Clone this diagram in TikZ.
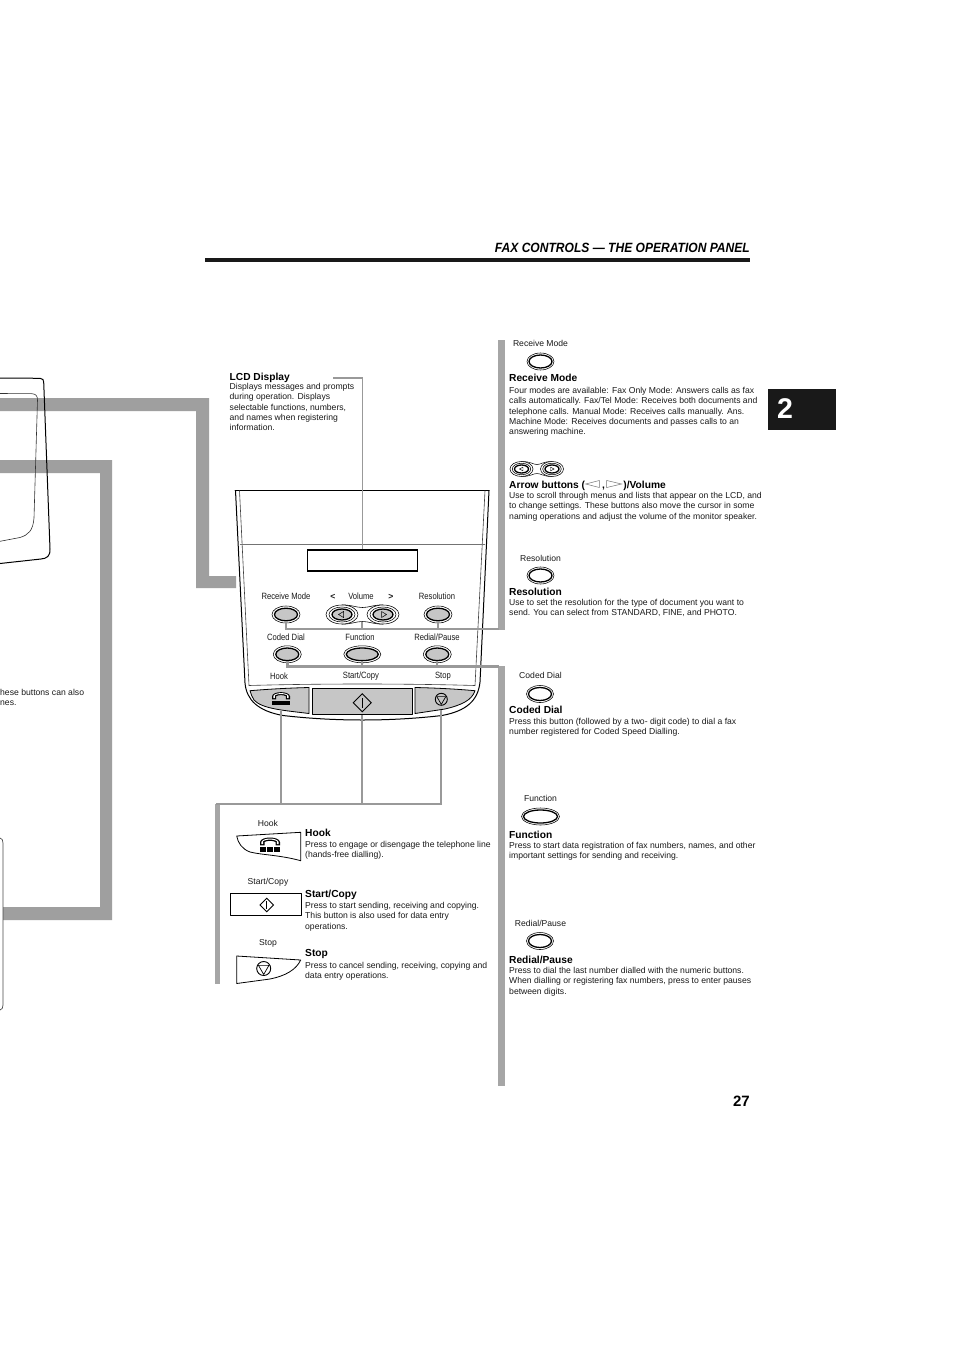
\documentclass[tikz,border=0pt]{standalone}
\usepackage{fontspec}
\setmainfont{Liberation Sans}
\newfontfamily\narrowf[FakeStretch=0.84]{Liberation Sans}
\newfontfamily\titlef[FakeStretch=0.9]{Liberation Sans}
\usetikzlibrary{shapes.geometric}
\definecolor{barA}{HTML}{9F9F9F}
\definecolor{barB}{HTML}{A6A6A6}
\definecolor{wireg}{HTML}{999999}
\definecolor{keyg}{HTML}{C6C6C6}
\definecolor{txt}{HTML}{1A1A1A}
\tikzset{
  bodytxt/.style={anchor=north west,inner sep=0pt,align=left,text=txt,font=\fontsize{8.62}{10.32}\selectfont},
  headtxt/.style={anchor=base west,inner sep=0pt,text=black,font=\fontsize{10.2}{11}\selectfont\bfseries},
  smalltxt/.style={anchor=center,inner sep=0pt,text=txt,font=\fontsize{8.6}{10}\selectfont},
  paneltxt/.style={anchor=center,inner sep=0pt,text=txt,font=\narrowf\fontsize{9.1}{10}\selectfont},
  thickbar/.style={fill=barA,draw=none},
  sidebar/.style={fill=barB,draw=none},
  wire/.style={draw=wireg,line width=2.4pt},
  thinwire/.style={draw=wireg,line width=1.9pt},
  outerring/.style={ellipse,draw=black,line width=0.55pt,inner sep=0pt,fill=white},
  innerkey/.style={ellipse,draw=black,line width=1.3pt,inner sep=0pt,fill=keyg},
  innericon/.style={ellipse,draw=black,line width=1.3pt,inner sep=0pt,fill=white},
  keyface/.style={draw=black,line width=0.8pt,fill=keyg,line join=round},
  iconface/.style={draw=black,line width=0.8pt,fill=white,line join=round},
  outline/.style={draw=black,line width=1pt,line cap=round},
  fineline/.style={draw=black!75,line width=0.6pt},
}
\newcommand{\panelkey}[5]{%
  \node[outerring,minimum width=#4*2pt,minimum height=#5*2pt] (#1o) at (#2,#3) {};
  \node[innerkey,minimum width=#4*2pt-5pt,minimum height=#5*2pt-4.4pt] (#1) at (#2,#3) {};}
\newcommand{\iconkey}[5]{%
  \node[outerring,minimum width=#4*2pt,minimum height=#5*2pt] (#1o) at (#2,#3) {};
  \node[innericon,minimum width=#4*2pt-4pt,minimum height=#5*2pt-4pt] (#1) at (#2,#3) {};}
\newcommand{\phoneicon}[3]{% x, y of centre, scale
  \begin{scope}[shift={(#1,#2)},scale=#3]
    \fill[black] (-10,1.4) -- (-10,-2) .. controls (-9,-8) and (9,-8) .. (10,-2) -- (10,1.4) -- (5.5,1.4) -- (5.5,-2) .. controls (3,-3.6) and (-3,-3.6) .. (-5.5,-2) -- (-5.5,1.4) -- cycle;
    \fill[white] (-8.6,0.2) -- (-8.6,-2) .. controls (-7,-6.6) and (7,-6.6) .. (8.6,-2) -- (8.6,0.2) -- (6.8,0.2) -- (6.8,-3) .. controls (3,-5) and (-3,-5) .. (-6.8,-3) -- (-6.8,0.2) -- cycle;
    \fill[black] (-10,3) rectangle (-3.8,8);
    \fill[black] (-3,3) rectangle (3,8);
    \fill[black] (3.8,3) rectangle (10,8);
  \end{scope}}
\newcommand{\startdiamond}[3]{%
  \draw[black,line width=0.9pt,fill=none,line join=miter] (#1-#3,#2) -- (#1,#2-#3) -- (#1+#3,#2) -- (#1,#2+#3) -- cycle;
  \draw[black,line width=1.5pt] (#1,#2-#3*0.55) -- (#1,#2+#3*0.55);}
\newcommand{\stopmark}[3]{%
  \draw[black,line width=0.9pt] (#1,#2) circle (#3pt);
  \draw[black,line width=0.7pt,line join=round] (#1-#3*0.75,#2-#3*0.45) -- (#1+#3*0.75,#2-#3*0.45) -- (#1,#2+#3*0.85) -- cycle;}
\begin{document}
\begin{tikzpicture}[x=1pt,y=-1pt]
\useasboundingbox (0,0) rectangle (954,1351);
\fill[white] (0,0) rectangle (954,1351);

% page furniture
\node[anchor=base east,inner sep=0pt,font=\titlef\fontsize{13.4}{15}\selectfont\bfseries\itshape] (pagetitle) at (750,252) {FAX CONTROLS — THE OPERATION PANEL};
\fill[black!90] (205,258) rectangle (750,262);
\fill[black!90] (768,389) rectangle (836,430);
\node[anchor=center,inner sep=0pt,text=white,font=\fontsize{28.5}{30}\selectfont\bfseries] (chapter) at (785,408.5) {2};
\node[anchor=base east,inner sep=0pt,font=\fontsize{15}{17}\selectfont\bfseries] (pagenum) at (750,1106) {27};

% thick grey bars on the left
\fill[thickbar] (0,398) -- (209,398) -- (209,576) -- (236,576) -- (236,588) -- (196,588) -- (196,411) -- (0,411) -- cycle;
\fill[thickbar] (0,460) -- (112,460) -- (112,920) -- (3,920) -- (3,907) -- (100,907) -- (100,473) -- (0,473) -- cycle;

% right side bars
\fill[sidebar] (498.3,340) rectangle (505,630);
\fill[sidebar] (498.3,666) rectangle (505,1086);
% lower left bracket
\fill[sidebar] (215,804) rectangle (220,984);

% cropped machine outline at far left
\draw[draw=black,line width=1pt] (0,378) -- (40,378.3) .. controls (43,378.5) and (43.5,380) .. (43.7,382) -- (50,549) .. controls (50.3,556) and (47,558.5) .. (41,559) -- (0,563.5);
\draw[draw=black!80,line width=0.6pt] (0,393.5) -- (32,393.7) .. controls (36,394) and (37.5,396) .. (37.5,400) -- (34,518) .. controls (33,531) and (28,535) .. (20,537.5) -- (0,541.3);
\draw[draw=black!70,line width=0.7pt] (0,838) .. controls (2,838.5) and (3,840) .. (3,843) -- (3,1005) .. controls (3,1008) and (2,1009.5) .. (0,1010);

% panel outline
\draw[outline] (235,490.5) -- (489,490.5);
\draw[outline] (235.5,490.5) -- (245,683) .. controls (246.5,700) and (258,711) .. (283,715.5) .. controls (335,721.5) and (390,721.5) .. (442,715.5) .. controls (466,711) and (478,701) .. (480,682) -- (489,490.5);
\draw[fineline] (239.5,490.5) -- (249,685.5) .. controls (320,683.5) and (405,683.5) .. (475,685.5) -- (485,490.5);
\draw[draw=black!55,line width=0.9pt] (239.5,544) -- (485,544);
\node[draw=black,line width=1.6pt,fill=white,inner sep=0pt,minimum width=110pt,minimum height=21pt] (lcd) at (362.5,560.5) {};

% bottom keys
\path[keyface] (250,690.7) .. controls (270,689) and (290,688) .. (309,687.5) -- (309,713.5) .. controls (285,710.5) and (262,709) .. (254,700) .. controls (252,697) and (251,694) .. (250,690.7) -- cycle;
\node[keyface,inner sep=0pt,minimum width=99.5pt,minimum height=26.5pt] (startkey) at (362.3,701.5) {};
\path[keyface] (415,687.5) .. controls (437,688) and (456,689) .. (475,690.7) .. controls (472,700) and (462,705) .. (445,709) -- (415,713.5) -- cycle;
\coordinate (hookkey) at (281,711);
\coordinate (stopkey) at (441,710);
\phoneicon{281}{698}{0.9}
\startdiamond{362.3}{702.7}{9}
\stopmark{441.3}{699.3}{6}

% panel buttons
\panelkey{krm}{286}{614.5}{14}{8.5}
\panelkey{kres}{438}{614.5}{14}{8.5}
\panelkey{kcd}{287.3}{654.3}{14}{8.5}
\panelkey{kfn}{362.3}{654.3}{18.5}{8.5}
\panelkey{krp}{437.3}{654.3}{14}{8.5}
% arrow pair
\draw[draw=black,line width=0.55pt] (342,604.8) .. controls (352,605) and (356,607.5) .. (362.5,607.5) .. controls (369,607.5) and (373,605) .. (383,604.8);
\draw[draw=black,line width=0.55pt] (342,624.2) .. controls (352,624) and (356,621.5) .. (362.5,621.5) .. controls (369,621.5) and (373,624) .. (383,624.2);
\node[outerring,minimum width=32pt,minimum height=19pt] (kao) at (342,614.5) {};
\node[outerring,minimum width=26pt,minimum height=15pt] (kam) at (342,614.5) {};
\node[innerkey,minimum width=20pt,minimum height=11pt] (ka) at (342,614.5) {};
\node[outerring,minimum width=32pt,minimum height=19pt] (kbo) at (383,614.5) {};
\node[outerring,minimum width=26pt,minimum height=15pt] (kbm) at (383,614.5) {};
\node[innerkey,minimum width=20pt,minimum height=11pt] (kb) at (383,614.5) {};
\draw[black,line width=0.5pt] (343.5,611.5) -- (338.5,614.5) -- (343.5,617.5) -- cycle;
\draw[black,line width=0.5pt] (381.5,611.5) -- (386.5,614.5) -- (381.5,617.5) -- cycle;

% panel labels
\node[paneltxt] (lrm) at (286,596) {Receive Mode};
\node[paneltxt,font=\fontsize{8.6}{10}\selectfont\bfseries] (lvl) at (333,596.5) {<};
\node[paneltxt] (lvol) at (361,596) {Volume};
\node[paneltxt,font=\fontsize{8.6}{10}\selectfont\bfseries] (lvr) at (391,596.5) {>};
\node[paneltxt] (lres) at (437,596) {Resolution};
\node[paneltxt] (lcd1) at (286,637) {Coded Dial};
\node[paneltxt] (lfn) at (360,637) {Function};
\node[paneltxt] (lrp) at (437,637) {Redial/Pause};
\node[paneltxt] (lhk) at (279,676) {Hook};
\node[paneltxt] (lst) at (361,676) {Start/Copy};
\node[paneltxt] (lsp) at (443,676) {Stop};

% connectors
\coordinate (cLcdEnd) at (333,377.7);
\draw[thinwire] (cLcdEnd) -| (lcd.north);
\coordinate (cUpper) at (498.5,629.3);
\coordinate (cLower) at (498.5,666.5);
\coordinate (cVol) at (362.3,629.3);
\draw[thinwire] (krm.south) |- (cUpper);
\draw[thinwire] (kres.south) -- (kres.south |- cUpper);
\draw[thinwire] (cVol) -- (362.3,621.8);
\draw[wire] (kcd.south) |- (cLower);
\draw[thinwire] (kfn.south) -- (kfn.south |- cLower);
\draw[thinwire] (krp.south) -- (krp.south |- cLower);
\coordinate (cBrL) at (216,804);
\coordinate (cBrR) at (442,804);
\draw[wire] (cBrL) -- (cBrR);
\draw[thinwire] (hookkey) -- (hookkey |- cBrL);
\draw[thinwire] (startkey.south) -- (startkey.south |- cBrL);
\draw[thinwire] (stopkey) -- (stopkey |- cBrL);

% LCD text
\node[headtxt] (hlcd) at (229.5,380.5) {LCD Display};
\node[bodytxt] (blcd) at (229.5,383.2) {Displays messages and prompts\\during operation. Displays\\selectable functions, numbers,\\and names when registering\\information.};

% cropped text on the left
\node[bodytxt] (bleft) at (0,688.8) {hese buttons can also\\nes.};

% right column
\node[smalltxt] (s1) at (540.5,343.3) {Receive Mode};
\iconkey{i1}{540.5}{361.5}{13.5}{8.5}
\node[headtxt] (h1) at (509,381.3) {Receive Mode};
\node[bodytxt] (b1) at (509,387.1) {Four modes are available: Fax Only Mode: Answers calls as fax\\calls automatically. Fax/Tel Mode: Receives both documents and\\telephone calls. Manual Mode: Receives calls manually. Ans.\\Machine Mode: Receives documents and passes calls to an\\answering machine.};

\draw[black,line width=0.5pt] (521.5,461.5) .. controls (531,461.5) and (533,464.5) .. (537,464.5) .. controls (541,464.5) and (543,461.5) .. (552,461.5);
\draw[black,line width=0.5pt] (521.5,476.5) .. controls (531,476.5) and (533,473.5) .. (537,473.5) .. controls (541,473.5) and (543,476.5) .. (552,476.5);
\node[outerring,minimum width=23pt,minimum height=15pt] (i2ao) at (521.5,469) {};
\node[outerring,minimum width=18.5pt,minimum height=11.5pt] (i2am) at (521.5,469) {};
\node[innericon,minimum width=14pt,minimum height=8pt] (i2a) at (521.5,469) {};
\node[outerring,minimum width=23pt,minimum height=15pt] (i2bo) at (552,469) {};
\node[outerring,minimum width=18.5pt,minimum height=11.5pt] (i2bm) at (552,469) {};
\node[innericon,minimum width=14pt,minimum height=8pt] (i2b) at (552,469) {};
\draw[black,line width=0.45pt] (523,467.2) -- (519.5,469) -- (523,470.8) -- cycle;
\draw[black,line width=0.45pt] (550.5,467.2) -- (554,469) -- (550.5,470.8) -- cycle;
\node[headtxt] (h2) at (509,488.2) {Arrow buttons (\hspace{17pt},\hspace{18.5pt})/Volume};
\draw[black!55,line width=0.5pt] (599.3,480.5) -- (585.7,484) -- (599.3,487.5) -- cycle;
\draw[black!55,line width=0.5pt] (606.7,480.5) -- (621.5,484) -- (606.7,487.5) -- cycle;
\node[bodytxt] (b2) at (509,492.2) {Use to scroll through menus and lists that appear on the LCD, and\\to change settings. These buttons also move the cursor in some\\naming operations and adjust the volume of the monitor speaker.};

\node[smalltxt] (s3) at (540.5,558.3) {Resolution};
\iconkey{i3}{540.5}{575.5}{13.5}{8.5}
\node[headtxt] (h3) at (509,595.2) {Resolution};
\node[bodytxt] (b3) at (509,599.2) {Use to set the resolution for the type of document you want to\\send. You can select from STANDARD, FINE, and PHOTO.};

\node[smalltxt] (s4) at (540.5,675.3) {Coded Dial};
\iconkey{i4}{540}{694}{13.5}{8.5}
\node[headtxt] (h4) at (509,713.2) {Coded Dial};
\node[bodytxt] (b4) at (509,718.2) {Press this button (followed by a two- digit code) to dial a fax\\number registered for Coded Speed Dialling.};

\node[smalltxt] (s5) at (540.5,798.3) {Function};
\iconkey{i5}{540.5}{816.5}{19}{8.5}
\node[headtxt] (h5) at (509,838.2) {Function};
\node[bodytxt] (b5) at (509,842.2) {Press to start data registration of fax numbers, names, and other\\important settings for sending and receiving.};

\node[smalltxt] (s6) at (540.5,923.3) {Redial/Pause};
\iconkey{i6}{540}{941}{13.5}{8.5}
\node[headtxt] (h6) at (509,963.2) {Redial/Pause};
\node[bodytxt] (b6) at (509,967.2) {Press to dial the last number dialled with the numeric buttons.\\When dialling or registering fax numbers, press to enter pauses\\between digits.};

% lower left column
\node[smalltxt] (s7) at (268,823.3) {Hook};
\path[iconface] (236.7,836) -- (300.7,832.3) -- (300.7,860.7) .. controls (280,855) and (262,855) .. (250,852) .. controls (242,849) and (238,843) .. (236.7,836) -- cycle;
\phoneicon{270}{844}{1}
\node[headtxt] (h7) at (305,836.2) {Hook};
\node[bodytxt] (b7) at (305,841.2) {Press to engage or disengage the telephone line\\(hands-free dialling).};

\node[smalltxt] (s8) at (268,882.3) {Start/Copy};
\node[iconface,inner sep=0pt,minimum width=71pt,minimum height=21.5pt] (i8) at (266,904.5) {};
\startdiamond{266.7}{905}{6.8}
\node[headtxt] (h8) at (305,897) {Start/Copy};
\node[bodytxt] (b8) at (305,902.2) {Press to start sending, receiving and copying.\\This button is also used for data entry\\operations.};

\node[smalltxt] (s9) at (268,943.3) {Stop};
\path[iconface] (236.7,956) -- (300.7,960) .. controls (296,970) and (285,976) .. (270,979) -- (236.7,983.5) -- cycle;
\stopmark{263.7}{968.5}{7}
\node[headtxt] (h9) at (305,956) {Stop};
\node[bodytxt] (b9) at (305,962.2) {Press to cancel sending, receiving, copying and\\data entry operations.};
\end{tikzpicture}
\end{document}
